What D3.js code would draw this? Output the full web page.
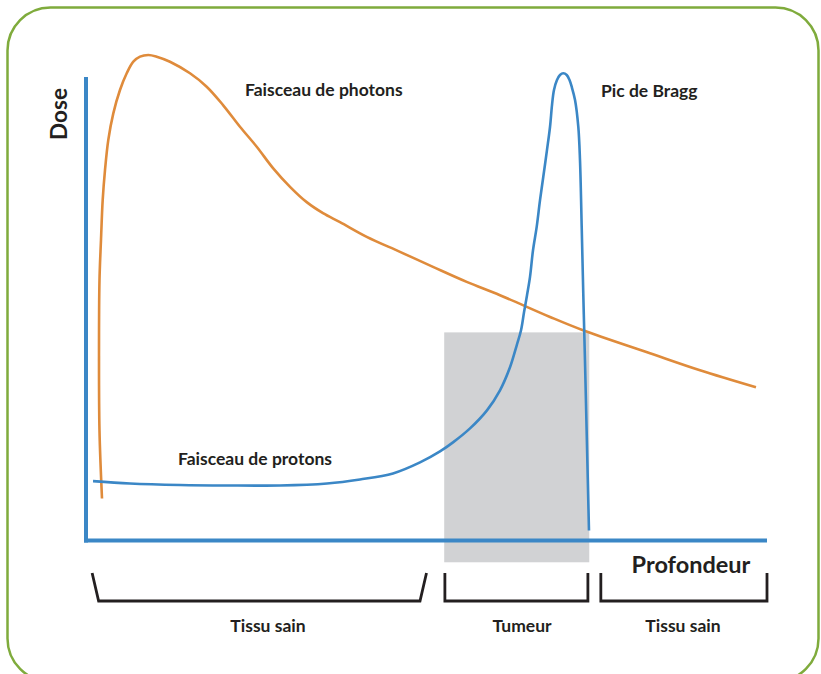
<!DOCTYPE html>
<html><head><meta charset="utf-8">
<script src="https://cdn.jsdelivr.net/npm/d3@7"></script>
<style>body{margin:0;background:#fff}svg{display:block}text{font-family:Lato,"Open Sans",sans-serif;font-weight:700;fill:#231f20}</style>
</head><body><svg id="c" width="821" height="674"></svg>
<script>
// ---- data ----
const photonDepth = [2.35,1.98,1.91,1.98,2.20,2.45,2.79,3.27,4.01,4.99,5.98,6.95,7.93,9.15,10.38,12.33,15.27,17.72,20.12,22.61,25.07,27.46,29.96,32.41,34.80,37.30,41.22,46.11,50.95,55.90,60.79,68.14,72.98,82.82,90.16,98.38];
const photonDose  = [9.07,23.76,41.04,56.16,64.79,73.43,79.91,86.39,92.16,97.19,100.80,103.31,104.39,104.75,104.39,103.30,100.80,97.90,93.95,89.27,84.95,80.35,76.31,73.00,70.63,68.68,65.51,62.27,59.03,55.79,52.92,48.23,45.36,40.39,36.72,33.05];
const protonDepth = [1.03,6.46,13.80,20.70,28.49,35.39,40.23,45.08,49.05,51.98,53.89,56.39,58.88,60.79,62.26,63.25,63.88,64.32,64.76,65.20,65.64,66.18,66.67,67.15,67.69,68.14,68.43,68.72,69.16,69.60,70.09,70.59,71.00,71.32,71.81,72.29,72.54,72.79,73.02,73.27,73.86];
const protonDose  = [12.81,12.31,11.99,11.88,11.88,12.31,13.17,14.47,16.85,19.22,21.17,24.19,28.08,32.40,37.37,42.12,45.36,49.24,52.92,56.87,62.63,67.67,73.43,78.47,84.23,89.27,93.95,97.19,99.35,100.43,100.80,100.43,99.35,97.90,95.03,89.27,82.07,67.67,53.35,38.88,2.16];
const tumourDepth = [52.6, 73.9];
const tumourDose  = [-4.7, 44.9];
const regionLabels = ["Tissu sain", "Tumeur", "Tissu sain"];
const regionStart  = [0.9, 52.7, 75.6];
const regionEnd    = [50.0, 73.7, 100.0];
const curveLabels  = ["Faisceau de photons", "Pic de Bragg", "Faisceau de protons"];
const axisTitles   = ["Profondeur", "Dose"];

// ---- drawing ----
const svg = d3.select("#c");
const x = d3.scaleLinear().domain([0,100]).range([86,767]);
const y = d3.scaleLinear().domain([0,100]).range([540.5,77]);

svg.append("rect").attr("x",7.5).attr("y",7.5).attr("width",811).attr("height",674)
  .attr("rx",43).attr("ry",43).attr("fill","none").attr("stroke","#7fab3c").attr("stroke-width",2.5);

// tumour band
svg.append("rect").attr("x",x(tumourDepth[0])).attr("width",x(tumourDepth[1])-x(tumourDepth[0]))
  .attr("y",y(tumourDose[1])).attr("height",y(tumourDose[0])-y(tumourDose[1])).attr("fill","#d1d2d4");

const line = d3.line().x(d=>x(d[0])).y(d=>y(d[1])).curve(d3.curveCatmullRom.alpha(0.5));
svg.append("path").datum(photonDepth.map((d,i)=>[d,photonDose[i]])).attr("d",line)
  .attr("fill","none").attr("stroke","#df8b3b").attr("stroke-width",2.6);
svg.append("path").datum(protonDepth.map((d,i)=>[d,protonDose[i]])).attr("d",line)
  .attr("fill","none").attr("stroke","#3b87c6").attr("stroke-width",2.6);

// axes
svg.append("line").attr("x1",x(0)).attr("x2",x(0)).attr("y1",y(100)).attr("y2",y(0)+2)
  .attr("stroke","#3b87c6").attr("stroke-width",4);
svg.append("line").attr("x1",x(0)-2).attr("x2",x(100)).attr("y1",y(0)).attr("y2",y(0))
  .attr("stroke","#3b87c6").attr("stroke-width",4);

// brackets
const bTop = 573, bBot = 601;
const labelX = [268, 522, 683];
regionLabels.forEach((lab,i)=>{
  const a = x(regionStart[i]), b = x(regionEnd[i]);
  const s = i===0 ? 6.5 : 0;
  svg.append("path").attr("d",`M${a},${bTop}L${a+s},${bBot}L${b-s},${bBot}L${b},${bTop}`)
    .attr("fill","none").attr("stroke","#231f20").attr("stroke-width",2.8);
  svg.append("text").attr("x",labelX[i]).attr("y",632).attr("text-anchor","middle")
    .attr("font-size",17.5).text(lab);
});

// labels
svg.append("text").attr("x",245).attr("y",96).attr("font-size",17.5).text(curveLabels[0]);
svg.append("text").attr("x",601).attr("y",96.5).attr("font-size",17.5).text(curveLabels[1]);
svg.append("text").attr("x",178).attr("y",465).attr("font-size",17.5).text(curveLabels[2]);
svg.append("text").attr("x",691).attr("y",573).attr("text-anchor","middle").attr("font-size",23.5).text(axisTitles[0]);
svg.append("text").attr("transform","translate(66.5,114) rotate(-90)").attr("text-anchor","middle")
  .attr("font-size",22.5).text(axisTitles[1]);
</script></body></html>
